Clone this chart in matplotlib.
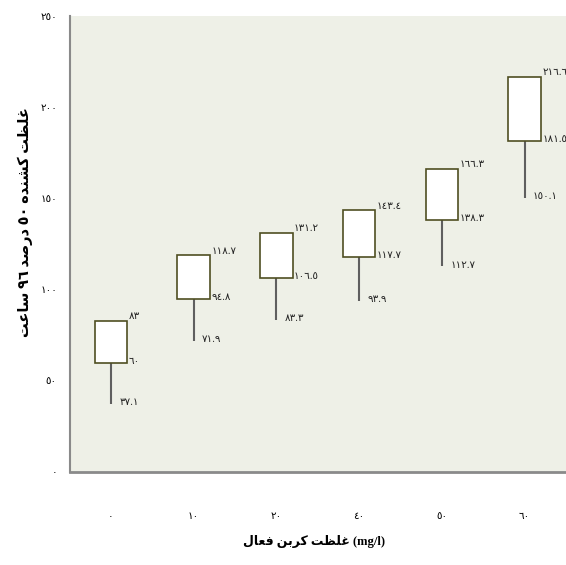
import matplotlib
matplotlib.use("Agg")
import matplotlib.pyplot as plt

# ---- data ----
categories = ["0", "10", "20", "40", "50", "60"]
upper_vals = [83, 118.7, 131.2, 143.4, 166.3, 216.6]
mid_vals = [60, 94.8, 106.5, 117.7, 138.3, 181.5]
low_vals = [37.1, 71.9, 83.3, 93.9, 112.7, 150.1]
y_ticks = [0, 50, 100, 150, 200, 250]

AR_DIGITS = str.maketrans("0123456789", "٠١٢٣٤٥٦٧٨٩")


def ar(s):
    return str(s).translate(AR_DIGITS)


def fmt(v):
    return ar("%g" % v)


def pf(*codes):
    return "".join(chr(c) for c in codes)


# visual-order (LTR) Arabic presentation forms
w_ghelzat = pf(0xFE96, 0xFEC8, 0xFEE0, 0xFECF)          # غلظت
w_koshandeh = pf(0xFEE9, 0xFEAA, 0xFEE8, 0xFEB8, 0xFEDB)  # کشنده
w_darsad = pf(0xFEAA, 0xFEBB, 0xFEAD, 0xFEA9)          # درصد
w_saat = pf(0xFE96, 0xFECB, 0xFE8E, 0xFEB3)            # ساعت
w_karbon = pf(0xFEE6, 0xFE91, 0xFEAE, 0xFEDB)          # کربن
w_faal = pf(0xFEDD, 0xFE8E, 0xFECC, 0xFED3)            # فعال

ylabel_txt = " ".join([w_saat, ar("96"), w_darsad, ar("50"), w_koshandeh, w_ghelzat])
xlabel_txt = " ".join([w_faal, w_karbon, w_ghelzat]) + " (mg/l)"

fam = ["Liberation Serif", "DejaVu Sans"]

fig = plt.figure(figsize=(5.66, 5.65), dpi=100)
ax = fig.add_axes([69.5 / 566, 1 - 472 / 565, 1 - 69.5 / 566, (472 - 16) / 565])
ax.set_facecolor("#EEF0E7")

x = list(range(len(categories)))
heights = [u - m for u, m in zip(upper_vals, mid_vals)]

ax.vlines(x, low_vals, mid_vals, color="#5f5f5f", linewidth=1.5, zorder=2)
ax.bar(x, heights, bottom=mid_vals, width=0.39, color="white",
       edgecolor="#4f4f22", linewidth=1.2, zorder=3)

for xi, u, m, l in zip(x, upper_vals, mid_vals, low_vals):
    ax.annotate(fmt(u), (xi + 0.195, u), xytext=(1, 3), textcoords="offset points",
                ha="left", va="center", fontsize=7.5, family=fam, color="#222222")
    ax.annotate(fmt(m), (xi + 0.195, m), xytext=(1, 1), textcoords="offset points",
                ha="left", va="center", fontsize=7.5, family=fam, color="#222222")
    ax.annotate(fmt(l), (xi, l), xytext=(6, 1), textcoords="offset points",
                ha="left", va="center", fontsize=7.5, family=fam, color="#222222")

ax.set_xlim(-0.5, len(categories) - 0.5)
ax.set_ylim(0, 250)
ax.set_xticks(x)
ax.set_xticklabels([ar(c) for c in categories], family=fam, fontsize=7.5)
ax.set_yticks(y_ticks)
ax.set_yticklabels([ar(t) for t in y_ticks], family=fam, fontsize=7.5)
ax.tick_params(axis="x", length=0, pad=29)
ax.tick_params(axis="y", length=0, pad=9)

for s in ["top", "right"]:
    ax.spines[s].set_visible(False)
ax.spines["left"].set_color("#8a8a8a")
ax.spines["left"].set_linewidth(1.5)
ax.spines["bottom"].set_color("#8a8a8a")
ax.spines["bottom"].set_linewidth(2)

fig.text(314 / 566, 1 - 542 / 565, xlabel_txt, ha="center", va="center",
         fontsize=9, fontweight="bold", family=fam)
fig.text(25 / 566, 1 - 222 / 565, ylabel_txt, ha="center", va="center", rotation=90,
         fontsize=10.5, fontweight="bold", family=fam)

fig.savefig("out.png", dpi=100)
